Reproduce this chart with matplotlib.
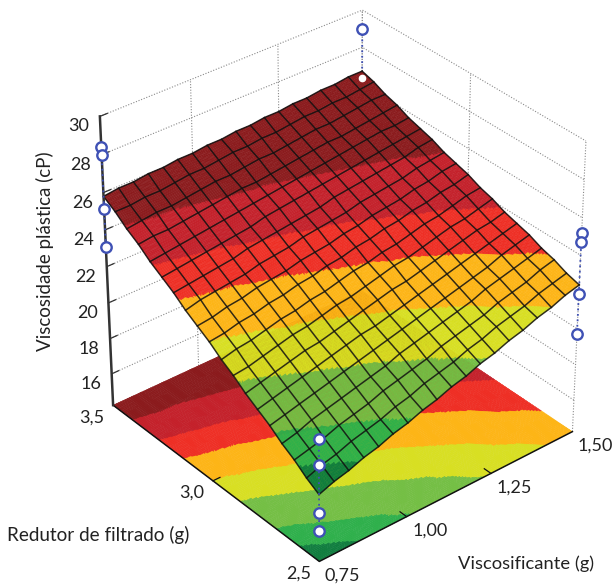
import numpy as np
import matplotlib
matplotlib.use('Agg')
import matplotlib.pyplot as plt
import matplotlib.tri as mtri
from mpl_toolkits.mplot3d import proj3d
from mpl_toolkits.mplot3d.art3d import Poly3DCollection

plt.rcParams['font.family'] = ['Lato', 'DejaVu Sans']

# axis values
visco = [0.75, 0.792, 0.833, 0.875, 0.917, 0.958, 1.0, 1.042, 1.083, 1.125,
         1.167, 1.208, 1.25, 1.292, 1.333, 1.375, 1.417, 1.458, 1.5]
redutor = [2.5, 2.556, 2.611, 2.667, 2.722, 2.778, 2.833, 2.889, 2.944, 3.0,
           3.056, 3.111, 3.167, 3.222, 3.278, 3.333, 3.389, 3.444, 3.5]

viscosidade = [
    [17.9,18.2,18.4,18.7,18.9,19.2,19.4,19.7,19.9,20.2,20.4,20.7,20.9,21.2,21.4,21.7,21.9,22.2,22.4],
    [18.3,18.6,18.8,19.1,19.3,19.5,19.8,20.0,20.3,20.5,20.7,21.0,21.2,21.5,21.7,21.9,22.2,22.4,22.6],
    [18.8,19.0,19.2,19.5,19.7,19.9,20.2,20.4,20.6,20.8,21.1,21.3,21.5,21.7,22.0,22.2,22.4,22.7,22.9],
    [19.2,19.4,19.7,19.9,20.1,20.3,20.5,20.7,21.0,21.2,21.4,21.6,21.8,22.0,22.3,22.5,22.7,22.9,23.1],
    [19.7,19.9,20.1,20.3,20.5,20.7,20.9,21.1,21.3,21.5,21.7,21.9,22.1,22.3,22.5,22.7,23.0,23.2,23.4],
    [20.1,20.3,20.5,20.7,20.9,21.1,21.3,21.5,21.6,21.8,22.0,22.2,22.4,22.6,22.8,23.0,23.2,23.4,23.6],
    [20.5,20.7,20.9,21.1,21.3,21.4,21.6,21.8,22.0,22.2,22.4,22.5,22.7,22.9,23.1,23.3,23.5,23.6,23.8],
    [21.0,21.1,21.3,21.5,21.7,21.8,22.0,22.2,22.3,22.5,22.7,22.9,23.0,23.2,23.4,23.6,23.7,23.9,24.1],
    [21.4,21.6,21.7,21.9,22.1,22.2,22.4,22.5,22.7,22.9,23.0,23.2,23.3,23.5,23.7,23.8,24.0,24.2,24.3],
    [21.9,22.0,22.2,22.3,22.5,22.6,22.8,22.9,23.1,23.2,23.4,23.5,23.7,23.8,24.0,24.1,24.3,24.4,24.6],
    [22.3,22.4,22.6,22.7,22.9,23.0,23.1,23.3,23.4,23.5,23.7,23.8,24.0,24.1,24.2,24.4,24.5,24.7,24.8],
    [22.7,22.9,23.0,23.1,23.2,23.4,23.5,23.6,23.8,23.9,24.0,24.1,24.3,24.4,24.5,24.6,24.8,24.9,25.0],
    [23.2,23.3,23.4,23.5,23.6,23.8,23.9,24.0,24.1,24.2,24.3,24.5,24.6,24.7,24.8,24.9,25.0,25.2,25.3],
    [23.6,23.7,23.8,23.9,24.0,24.1,24.2,24.4,24.5,24.6,24.7,24.8,24.9,25.0,25.1,25.2,25.3,25.4,25.5],
    [24.0,24.1,24.2,24.3,24.4,24.5,24.6,24.7,24.8,24.9,25.0,25.1,25.2,25.3,25.4,25.5,25.6,25.6,25.7],
    [24.5,24.6,24.6,24.7,24.8,24.9,25.0,25.1,25.1,25.2,25.3,25.4,25.5,25.6,25.6,25.7,25.8,25.9,26.0],
    [24.9,25.0,25.1,25.1,25.2,25.3,25.4,25.4,25.5,25.6,25.6,25.7,25.8,25.9,25.9,26.0,26.1,26.2,26.2],
    [25.4,25.4,25.5,25.5,25.6,25.7,25.7,25.8,25.9,25.9,26.0,26.0,26.1,26.2,26.2,26.3,26.3,26.4,26.5],
    [25.8,25.9,25.9,26.0,26.0,26.1,26.1,26.2,26.2,26.3,26.3,26.4,26.4,26.5,26.5,26.6,26.6,26.7,26.7],
]

# colour bands of the response surface
band_levels = [18.6, 19.5, 20.8, 21.9, 23.0, 23.9, 25.0]
band_colors = ['#0f7d3e', '#2eb04b', '#74bf44', '#d8df21', '#fdb515', '#ee2e24', '#c4202a', '#8b1a1c']

# experimental points at the four corners
pts_front = [20.9, 19.5, 16.9, 15.9]
pts_left = [28.4, 28.0, 25.1, 23.1]
pts_right = [25.2, 24.7, 21.9, 19.7]
pts_back = [29.0]
pts_back_under = [26.3]

x_ticks = [0.75, 1.00, 1.25, 1.50]
x_labels = ['0,75', '1,00', '1,25', '1,50']
y_ticks = [2.5, 3.0, 3.5]
y_labels = ['2,5', '3,0', '3,5']
z_ticks = [16, 18, 20, 22, 24, 26, 28, 30]
z_labels = ['16', '18', '20', '22', '24', '26', '28', '30']

x0, x1 = 0.75, 1.50
y0, y1 = 2.5, 3.5
z0, z1 = 14.2, 30

fig = plt.figure(figsize=(6.14, 5.85), dpi=100)
ax = fig.add_axes([0.0433, 0.012, 1.0, 1.0], projection='3d', computed_zorder=False)
ax.set_proj_type('persp', focal_length=1.074)
ax.view_init(elev=33.58, azim=-129.6)
ax.set_box_aspect((1, 1.007, 1.039), zoom=0.976)
ax.set_xlim(x0, x1)
ax.set_ylim(y0, y1)
ax.set_zlim(z0, z1)
ax.set_axis_off()

X, Y = np.meshgrid(visco, redutor)
Z = np.array(viscosidade)

# fine triangles, only used to get smooth colour bands between the mesh nodes
tri = mtri.Triangulation(X.ravel(), Y.ravel())
refiner = mtri.UniformTriRefiner(tri)
interp = mtri.LinearTriInterpolator(tri, Z.ravel())
fine_tri, fine_z = refiner.refine_field(Z.ravel(), triinterpolator=interp, subdiv=3)
t = fine_tri.triangles
band = np.digitize(fine_z[t].mean(axis=1), band_levels)
face = np.array(band_colors)[band]
tx = fine_tri.x[t]
ty = fine_tri.y[t]
tz = fine_z[t]


def grid_line(xs, ys, zs):
    ax.plot(xs, ys, zs, color='#8a8a8a', lw=0.8, ls=(0, (1, 1.5)), zorder=1)


# walls
for z in z_ticks:
    grid_line([x0, x1, x1], [y1, y1, y0], [z, z, z])
for x in x_ticks[1:]:
    grid_line([x, x], [y1, y1], [z0, z1])
for y in y_ticks:
    grid_line([x1, x1], [y, y], [z0, z1])

# floor
floor = Poly3DCollection(np.dstack([tx, ty, np.full_like(tz, z0)]), facecolors=face,
                         edgecolors=face, linewidths=0.3, zorder=2)
ax.add_collection3d(floor)
ax.plot([x1, x0, x0], [y0, y0, y1], [z0, z0, z0], color='#111111', lw=1.1, zorder=3)

# surface
surf = Poly3DCollection(np.dstack([tx, ty, tz]), facecolors=face,
                        edgecolors=face, linewidths=0.3, zorder=4)
ax.add_collection3d(surf)
for i in range(Z.shape[0]):
    ax.plot(X[i], Y[i], Z[i], color='#111111', lw=1.1, alpha=0.85, zorder=5)
for j in range(Z.shape[1]):
    ax.plot(X[:, j], Y[:, j], Z[:, j], color='#111111', lw=1.1, alpha=0.85, zorder=5)

# z axis and tick marks
ax.plot([x0, x0], [y1, y1], [z0, z1], color='#333333', lw=1.8, zorder=6)
for z in z_ticks:
    ax.plot([x0, x0 + 0.02], [y1, y1], [z, z], color='#333333', lw=0.9, zorder=6)
for x in x_ticks[1:3]:
    ax.plot([x, x], [y0, y0 + 0.03], [z0, z0], color='#111111', lw=0.9, zorder=6)
ax.plot([x0, x0 + 0.02], [3.0, 3.0], [z0, z0], color='#111111', lw=0.9, zorder=6)

# experimental points
blue = '#3f51b5'
for cx, cy, vals in [(x0, y1, pts_left), (x1, y0, pts_right), (x0, y0, pts_front)]:
    n = len(vals)
    ax.plot([cx] * n, [cy] * n, vals, color=blue, lw=1.3, ls=(0, (1, 2)), zorder=7)
    ax.plot([cx] * n, [cy] * n, vals, ls='none', marker='o', ms=7.5, mfc='white', mec=blue, mew=1.7, zorder=8)

# back corner: upper point stands clear, the lower one sits just under the surface
ax.plot([x1, x1], [y1, y1], [pts_back[0], Z[-1, -1]], color=blue, lw=1.3, ls=(0, (1, 2)), zorder=7)
ax.plot([x1], [y1], pts_back, ls='none', marker='o', ms=7.5, mfc='white', mec=blue, mew=1.7, zorder=8)
ax.plot([x1], [y1], pts_back_under, ls='none', marker='o', ms=4.5, mfc='white', mec='white', zorder=8)

fig.canvas.draw()
proj = ax.get_proj()


def tick_label(x, y, z, text, dx, dy):
    px, py, _ = proj3d.proj_transform(x, y, z, proj)
    ax.annotate(text, (px, py), xytext=(dx, -dy), textcoords='offset pixels',
                ha='center', va='center', fontsize=13, color='#222222')


for z, s in zip(z_ticks, z_labels):
    tick_label(x0, y1, z, s, -21, 10)
for y, s in zip(y_ticks, y_labels):
    tick_label(x0, y, z0, s, -21, 12)
for x, s in zip(x_ticks, x_labels):
    tick_label(x, y0, z0, s, 23, 14)

fig.text(7 / 614, 1 - 535 / 585, 'Redutor de filtrado (g)', fontsize=13.6, color='#222222', ha='left', va='center')
fig.text(458 / 614, 1 - 564 / 585, 'Viscosificante (g)', fontsize=13.2, color='#222222', ha='left', va='center')
fig.text(45 / 614, 1 - 251 / 585, 'Viscosidade plástica (cP)', fontsize=13.5, color='#222222',
         rotation=90, ha='center', va='center')

fig.savefig('out.png', dpi=100)
